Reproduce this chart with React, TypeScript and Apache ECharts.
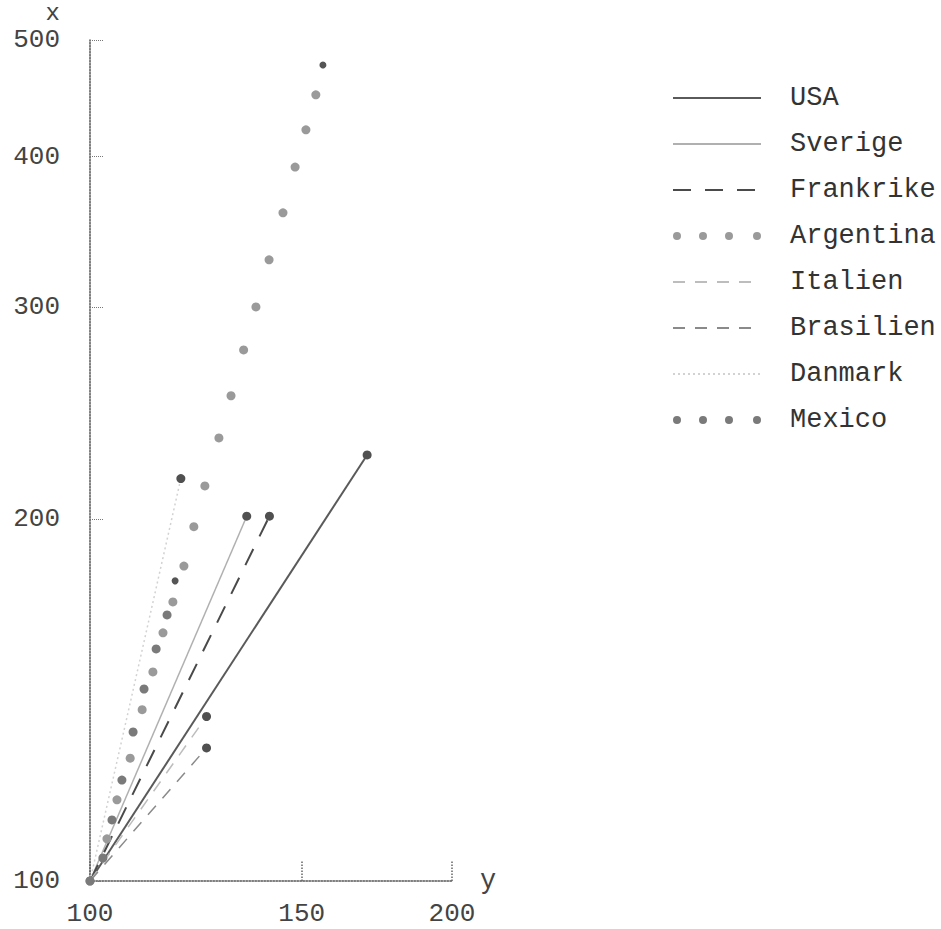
import React, { useEffect, useRef } from 'react';
import * as echarts from 'echarts';

const xTicks = [100, 150, 200];
const yTicks = [100, 200, 300, 400, 500];

const usa = [[100, 100], [170, 226]];
const sverige = [[100, 100], [135, 201]];
const frankrike = [[100, 100], [141, 201]];
const italien = [[100, 100], [125, 137]];
const brasilien = [[100, 100], [125, 129]];
const danmark = [[100, 100], [119, 216]];
const argentina = [
  [100, 100], [103.3, 108.4], [105.3, 116.8], [108, 126.5], [110.5, 138.8],
  [112.8, 149.2], [115, 160.8], [117.2, 170.6], [119.7, 182.7], [122, 197],
  [124.6, 213], [128, 233.5], [131, 253.1], [134.2, 276.3], [137.4, 300],
  [140.9, 328.3], [144.7, 359.2], [148.1, 392.1], [151.2, 421], [154.1, 450.2],
  [156.2, 476.7],
];
const mexico = [
  [100, 100], [102.5, 104.5], [104.3, 112.4], [106.3, 121.3], [108.6, 133],
  [110.9, 144.4], [113.5, 155.9], [115.9, 166.4], [117.7, 177.6],
];

const FONT = '"Liberation Mono", "DejaVu Sans Mono", monospace';

const dotsIcon =
  'path://M0,4a4,4 0 1,0 8,0a4,4 0 1,0 -8,0Z' +
  'M26,4a4,4 0 1,0 8,0a4,4 0 1,0 -8,0Z' +
  'M52,4a4,4 0 1,0 8,0a4,4 0 1,0 -8,0Z' +
  'M80,4a4,4 0 1,0 8,0a4,4 0 1,0 -8,0Z';

function lineSeries(name: string, data: number[][], color: string, width: number, type: any) {
  return {
    name,
    type: 'line',
    color,
    symbol: 'none',
    showSymbol: true,
    lineStyle: { color, width, type },
    data: data.map((p, i) =>
      i === data.length - 1
        ? { value: p, symbol: 'circle', symbolSize: 9, itemStyle: { color: '#505050' } }
        : { value: p, symbol: 'none' }
    ),
    z: 2,
  };
}

function dotSeries(name: string, data: number[][], color: string, lastColor: string) {
  return {
    name,
    type: 'line',
    color,
    symbol: 'circle',
    symbolSize: 9,
    showSymbol: true,
    lineStyle: { width: 0, opacity: 0 },
    itemStyle: { color },
    data: data.map((p, i) =>
      i === data.length - 1
        ? { value: p, symbolSize: 7, itemStyle: { color: lastColor } }
        : { value: p }
    ),
    z: 3,
  };
}

export default function App() {
  const ref = useRef<HTMLDivElement>(null);
  useEffect(() => {
    if (!ref.current) return;
    const chart = echarts.init(ref.current, null, { renderer: 'svg' });
    const axisLine = { show: true, lineStyle: { color: '#555', width: 1.5, type: 'dotted' } };
    const noSym = { itemStyle: { opacity: 0 } };
    chart.setOption({
      animation: false,
      backgroundColor: '#ffffff',
      grid: { left: 90, top: 40, width: 362, height: 841, containLabel: false },
      xAxis: {
        type: 'log',
        logBase: 10,
        min: 100,
        max: 200,
        name: 'y',
        nameLocation: 'end',
        nameGap: 28,
        nameTextStyle: { fontFamily: FONT, fontSize: 27, color: '#444', verticalAlign: 'middle', padding: [0, 0, 8, 0] },
        axisLine,
        splitLine: { show: false },
        minorTick: { show: false },
        axisTick: { show: true, inside: true, length: 20, customValues: xTicks, lineStyle: { color: '#666', type: 'dotted', width: 1.5 } },
        axisLabel: { customValues: xTicks, margin: 20, fontFamily: FONT, fontSize: 26, color: '#444' },
      },
      yAxis: {
        type: 'log',
        logBase: 10,
        min: 100,
        max: 500,
        name: 'x',
        nameLocation: 'end',
        nameGap: 17,
        nameTextStyle: { fontFamily: FONT, fontSize: 24, color: '#444', align: 'right', verticalAlign: 'bottom', lineHeight: 20, padding: [0, 30, 0, 0] },
        axisLine,
        splitLine: { show: false },
        minorTick: { show: false },
        axisTick: { show: true, inside: true, length: 14, customValues: yTicks, lineStyle: { color: '#777', type: 'dotted', width: 1 } },
        axisLabel: { customValues: yTicks, margin: 30, fontFamily: FONT, fontSize: 26, color: '#444' },
      },
      legend: {
        orient: 'vertical',
        left: 672,
        top: 83,
        padding: 0,
        itemWidth: 88,
        itemHeight: 8,
        itemGap: 16,
        textStyle: { fontFamily: FONT, fontSize: 27, color: '#333', lineHeight: 30, padding: [0, 0, 0, 24] },
        data: [
          { name: 'USA', ...noSym },
          { name: 'Sverige', ...noSym },
          { name: 'Frankrike', ...noSym },
          { name: 'Argentina', icon: dotsIcon },
          { name: 'Italien', ...noSym },
          { name: 'Brasilien', ...noSym },
          { name: 'Danmark', ...noSym },
          { name: 'Mexico', icon: dotsIcon },
        ],
      },
      series: [
        lineSeries('USA', usa, '#5a5a5a', 2, 'solid'),
        lineSeries('Sverige', sverige, '#b0b0b0', 1.5, 'solid'),
        lineSeries('Frankrike', frankrike, '#4a4a4a', 2, [18, 14]),
        dotSeries('Argentina', argentina, '#9a9a9a', '#555'),
        lineSeries('Italien', italien, '#bdbdbd', 1.5, [12, 10]),
        lineSeries('Brasilien', brasilien, '#8a8a8a', 1.5, [12, 10]),
        lineSeries('Danmark', danmark, '#d2d2d2', 1.5, [2, 3]),
        dotSeries('Mexico', mexico, '#7a7a7a', '#555'),
      ],
    });
    return () => chart.dispose();
  }, []);
  return (
    <div
      ref={ref}
      style={{ position: 'fixed', left: 0, top: 0, width: 941, height: 929, background: '#fff' }}
    />
  );
}
